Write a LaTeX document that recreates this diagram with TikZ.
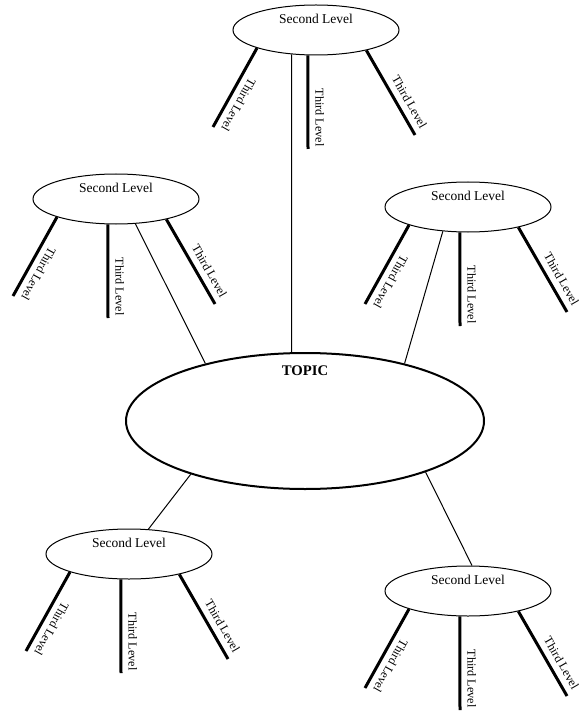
\documentclass[tikz,border=0pt]{standalone}
\usepackage{fontspec}
\setmainfont{Liberation Serif}
\usetikzlibrary{shapes.geometric}
\tikzstyle{topic}=[draw=black, shape=ellipse, line width=2pt,
        minimum width=358pt, minimum height=136pt, inner sep=0pt]
\tikzstyle{second}=[draw=black, shape=ellipse, line width=1pt,
        minimum width=166pt, minimum height=50pt, inner sep=0pt]
\tikzstyle{head}=[anchor=north, inner sep=0pt, font=\fontsize{13.5}{16}\selectfont]
\tikzstyle{third}=[line width=3pt]
\tikzstyle{leaf}=[sloped, allow upside down, pos=1, anchor=south east,
        inner xsep=1pt, inner ysep=6pt, font=\fontsize{12.2}{14}\selectfont]
\tikzstyle{link}=[line width=1pt]

\begin{document}
\begin{tikzpicture}[x=1pt, y=-1pt]
        \useasboundingbox (0,0) rectangle (584,711);

        \node[topic, label={[head, yshift=-14pt,
            font=\bfseries\fontsize{14.7}{17}\selectfont]north:TOPIC}] (topic) at (305,421) {};

        \node[second, label={[head, yshift=-9pt]north:Second Level}] (top) at (316,30) {};
        \node[second, label={[head, yshift=-9pt]north:Second Level}] (upleft) at (116,199) {};
        \node[second, label={[head, yshift=-9pt]north:Second Level}] (upright) at (468,207) {};
        \node[second, label={[head, yshift=-9pt]north:Second Level}] (lowleft) at (129,554) {};
        \node[second, label={[head, yshift=-9pt]north:Second Level}] (lowright) at (468,591) {};

        % links to the topic
        \draw[link] (top.225) -- (topic.101);
        \draw[link] (upleft.308) -- (topic.150);
        \draw[link] (upright.224) -- (topic.30);
        \draw[link] (topic.205) -- (lowleft.52);
        \draw[link] (topic.337) -- (lowright.81);

        % third level
        \coordinate (top-l) at ([shift={(-103,97)}]top.center);
        \coordinate (top-m) at ([shift={(-8,119)}]top.center);
        \coordinate (top-r) at ([shift={(99,105)}]top.center);
        \draw[third] (top.197) -- node[leaf] {Third Level} (top-l);
        \draw[third] (top.252) -- node[leaf] {Third Level} (top-m);
        \draw[third] (top.338) -- node[leaf] {Third Level} (top-r);

        \coordinate (upleft-l) at ([shift={(-103,97)}]upleft.center);
        \coordinate (upleft-m) at ([shift={(-8,119)}]upleft.center);
        \coordinate (upleft-r) at ([shift={(99,105)}]upleft.center);
        \draw[third] (upleft.197) -- node[leaf] {Third Level} (upleft-l);
        \draw[third] (upleft.252) -- node[leaf] {Third Level} (upleft-m);
        \draw[third] (upleft.338) -- node[leaf] {Third Level} (upleft-r);

        \coordinate (upright-l) at ([shift={(-103,97)}]upright.center);
        \coordinate (upright-m) at ([shift={(-8,119)}]upright.center);
        \coordinate (upright-r) at ([shift={(99,105)}]upright.center);
        \draw[third] (upright.197) -- node[leaf] {Third Level} (upright-l);
        \draw[third] (upright.252) -- node[leaf] {Third Level} (upright-m);
        \draw[third] (upright.338) -- node[leaf] {Third Level} (upright-r);

        \coordinate (lowleft-l) at ([shift={(-103,97)}]lowleft.center);
        \coordinate (lowleft-m) at ([shift={(-8,119)}]lowleft.center);
        \coordinate (lowleft-r) at ([shift={(99,105)}]lowleft.center);
        \draw[third] (lowleft.197) -- node[leaf] {Third Level} (lowleft-l);
        \draw[third] (lowleft.252) -- node[leaf] {Third Level} (lowleft-m);
        \draw[third] (lowleft.338) -- node[leaf] {Third Level} (lowleft-r);

        \coordinate (lowright-l) at ([shift={(-103,97)}]lowright.center);
        \coordinate (lowright-m) at ([shift={(-8,119)}]lowright.center);
        \coordinate (lowright-r) at ([shift={(99,105)}]lowright.center);
        \draw[third] (lowright.197) -- node[leaf] {Third Level} (lowright-l);
        \draw[third] (lowright.252) -- node[leaf] {Third Level} (lowright-m);
        \draw[third] (lowright.338) -- node[leaf] {Third Level} (lowright-r);
    \end{tikzpicture}
\end{document}
